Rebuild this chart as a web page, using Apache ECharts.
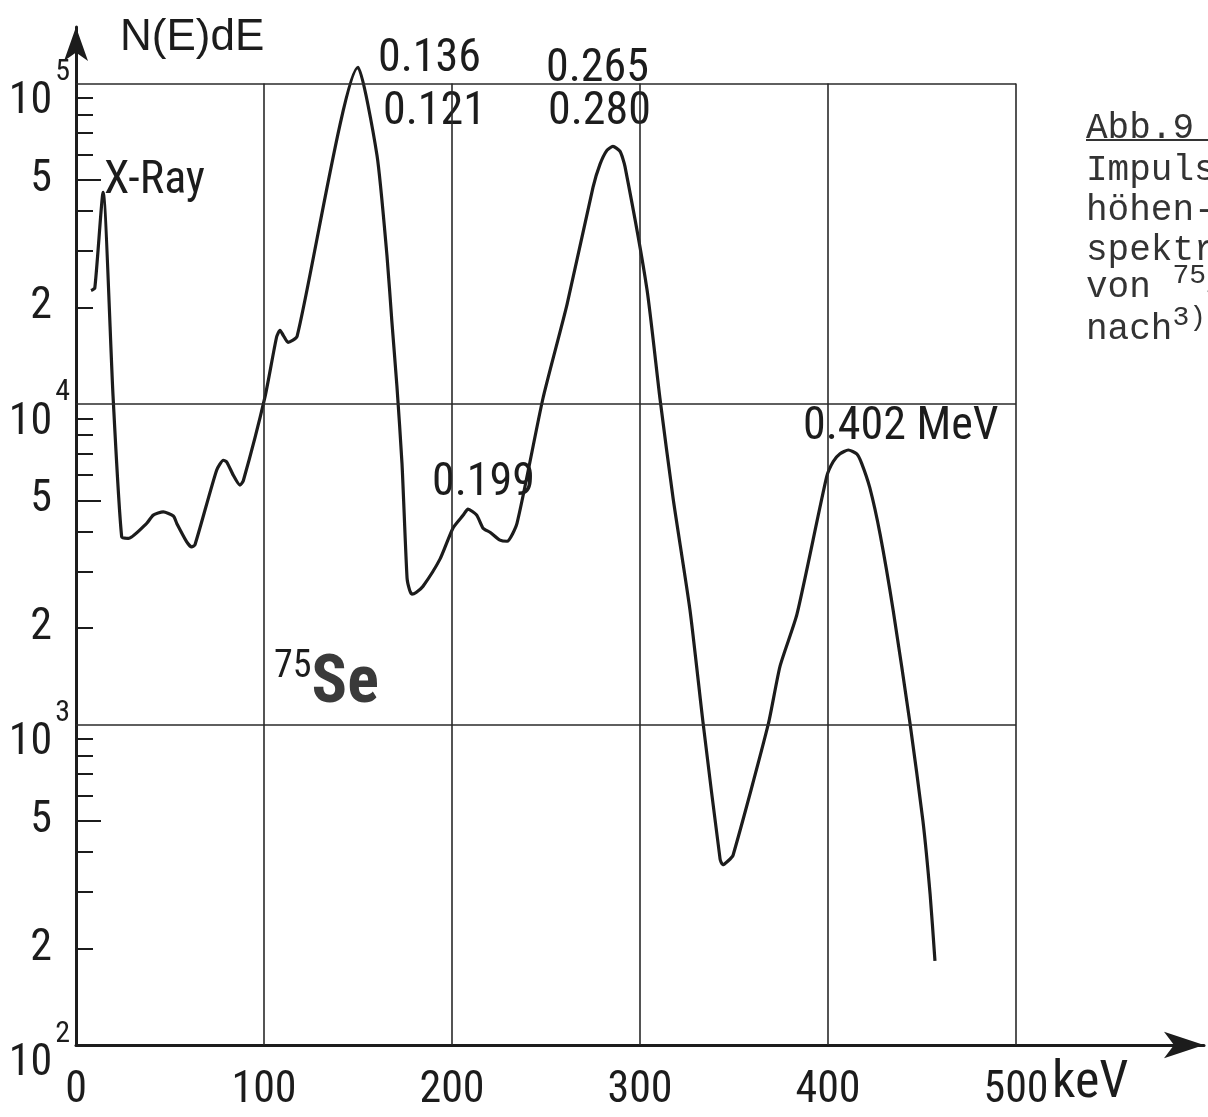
<!DOCTYPE html>
<html>
<head>
<meta charset="utf-8">
<script src="https://cdn.jsdelivr.net/npm/echarts@6/dist/echarts.min.js"></script>
<style>
  html, body { margin: 0; padding: 0; background: #fff; }
  #chart { width: 1208px; height: 1117px; }
</style>
</head>
<body>
<div id="chart"></div>
<script>
// 75Se pulse height spectrum (keV / counts)
var energy = [8, 10, 14.4, 19.7, 24.3, 27.8, 37.6, 41.1, 46.4, 51.8, 53.6, 58.9, 61.5, 63.3,
    74.8, 78.4, 80.2, 83.7, 87.2, 89, 100.5, 106.7, 108.5, 110.3, 112.8, 117.6,
    150, 160.1, 165.4, 168, 170.7, 173.4, 176.1, 177.5, 178.7, 180.9, 184.6, 193.6,
    200.5, 206, 208.5, 213.1, 216.5, 220.2, 225.5, 229.3, 234.6, 248.4, 261.2, 275,
    278.7, 282.4, 285.6, 289.4, 292, 303.7, 310.6, 317.6, 326.6, 333.5,
    342.6, 344, 346.8, 349.5, 368.2, 374.5, 383.5, 399.3, 402.8, 406.4, 410.8, 415.3,
    417.9, 422.3, 427.7, 434.7, 443.6, 450.5, 454.3, 456.9];
var counts = [22600, 23000, 45700, 10600, 3850, 3805, 4240, 4500, 4605, 4470, 4240, 3715, 3580, 3640,
    6215, 6675, 6590, 5990, 5580, 5760, 10500, 16180, 16980, 16350, 15570, 16260,
    112200, 59650, 29080, 18140, 11360, 6530, 2860, 2620, 2550, 2580, 2700, 3280,
    4097, 4500, 4695, 4500, 4097, 3980, 3760, 3730, 4250, 10420, 20460, 47400,
    55900, 61820, 63610, 61380, 55110, 22790, 10420, 5080, 2273, 1017,
    380, 365, 375, 391, 1000, 1521, 2209, 5930, 6613, 6988, 7184, 6988,
    6528, 5461, 3925, 2265, 1010, 500, 296, 183];

var xLabels = [0, 100, 200, 300, 400, 500];
var xGrid = [100, 200, 300, 400, 500];
var yLabels = [100, 200, 500, 1000, 2000, 5000, 10000, 20000, 50000, 100000];
var yGrid = [1000, 10000, 100000];
var yMinor = [200, 300, 400, 600, 700, 800, 900,
    2000, 3000, 4000, 6000, 7000, 8000, 9000,
    20000, 30000, 40000, 60000, 70000, 80000, 90000];
var yFives = [500, 5000, 50000];

var COND = '"Roboto Condensed", "Liberation Sans", sans-serif';
var MONO = '"Liberation Mono", monospace';
var INK = '#1c1c1c';

var data = [];
for (var i = 0; i < energy.length; i++) {
    data.push([energy[i], counts[i]]);
}

// grid lines stop at 500 keV and 10^5, the axes run on to the arrows
var gridLines = [];
xGrid.forEach(function (v) {
    gridLines.push([{ coord: [v, 100] }, { coord: [v, 100000] }]);
});
yGrid.forEach(function (v) {
    gridLines.push([{ coord: [0, v] }, { coord: [500, v] }]);
});

function yFormat(v) {
    var e = Math.round(Math.log10(v));
    if (Math.abs(Math.pow(10, e) - v) < v * 1e-6) {
        return '{b|10}{s|' + e + '}';
    }
    return '{d|' + Math.round(v / Math.pow(10, Math.floor(Math.log10(v) + 1e-9))) + '}';
}

var myChart = echarts.init(document.getElementById('chart'));

var option = {
    backgroundColor: '#fff',
    animation: false,
    grid: { left: 76, top: 27, width: 1128, height: 1018 },
    xAxis: {
        type: 'value',
        min: 0,
        max: 600,
        interval: 100,
        axisLine: {
            lineStyle: { color: INK, width: 3 },
            symbol: ['none', 'arrow'],
            symbolSize: [20, 40]
        },
        axisTick: { show: false },
        splitLine: { show: false },
        axisLabel: {
            customValues: xLabels,
            margin: 24,
            color: INK,
            fontSize: 44,
            fontFamily: COND
        }
    },
    yAxis: [{
        type: 'log',
        min: 100,
        max: 150000,
        axisLine: {
            lineStyle: { color: INK, width: 3 },
            symbol: ['none', 'arrow'],
            symbolSize: [18, 34]
        },
        axisTick: {
            customValues: yMinor,
            inside: true,
            length: 17,
            lineStyle: { color: INK, width: 2 }
        },
        splitLine: { show: false },
        axisLabel: {
            customValues: yLabels,
            margin: 6,
            color: INK,
            formatter: yFormat,
            rich: {
                b: { fontSize: 44, fontFamily: COND, color: INK, lineHeight: 82, verticalAlign: 'bottom' },
                s: { fontSize: 30, fontFamily: COND, color: INK, lineHeight: 30, verticalAlign: 'top', padding: [15, 0, 0, 3] },
                d: { fontSize: 44, fontFamily: COND, color: INK, padding: [0, 18, 0, 0] }
            }
        }
    }, {
        type: 'log',
        min: 100,
        max: 150000,
        position: 'left',
        axisLine: { show: false },
        axisTick: {
            customValues: yFives,
            inside: true,
            length: 25,
            lineStyle: { color: INK, width: 2 }
        },
        axisLabel: { show: false },
        splitLine: { show: false }
    }],
    series: [{
        type: 'line',
        data: data,
        showSymbol: false,
        smooth: 0.2,
        lineStyle: { color: INK, width: 3.2, join: 'round' },
        markLine: {
            silent: true,
            symbol: ['none', 'none'],
            label: { show: false },
            lineStyle: { color: '#2a2a2a', width: 1.6, type: 'solid' },
            data: gridLines
        }
    }],
    graphic: [
        { type: 'text', left: 120, top: 16, style: { text: 'N(E)dE', fontSize: 44, fontFamily: '"Liberation Sans", sans-serif', fill: INK } },
        { type: 'text', left: 104, top: 158, style: { text: 'X-Ray', fontSize: 46, fontFamily: COND, fill: INK } },
        { type: 'text', left: 378, top: 36, style: { text: '0.136', fontSize: 46, fontFamily: COND, fill: INK } },
        { type: 'text', left: 383, top: 89, style: { text: '0.121', fontSize: 46, fontFamily: COND, fill: INK } },
        { type: 'text', left: 538, top: 46, style: { text: '0.265', fontSize: 46, fontFamily: COND, fill: INK, backgroundColor: '#fff', padding: [0, 4, 0, 8] } },
        { type: 'text', left: 548, top: 89, style: { text: '0.280', fontSize: 46, fontFamily: COND, fill: INK } },
        { type: 'text', left: 432, top: 460, style: { text: '0.199', fontSize: 46, fontFamily: COND, fill: INK } },
        { type: 'text', left: 803, top: 404, style: { text: '0.402 MeV', fontSize: 46, fontFamily: COND, fill: INK } },
        { type: 'text', left: 274, top: 648, style: {
            text: '{a|75}{b|Se}',
            rich: {
                a: { fontSize: 38, fontFamily: COND, fill: INK, verticalAlign: 'top', lineHeight: 70 },
                b: { fontSize: 66, fontFamily: COND, fontWeight: 'bold', fill: '#3a3a3a', verticalAlign: 'bottom', lineHeight: 70 }
            }
        } },
        { type: 'text', left: 1052, top: 1058, style: { text: 'keV', fontSize: 52, fontFamily: COND, fill: INK } },
        { type: 'text', left: 1086, top: 110, style: { text: 'Abb.9', fontSize: 36, fontFamily: MONO, fill: '#333' } },
        { type: 'line', shape: { x1: 1086, y1: 140, x2: 1208, y2: 140 }, style: { stroke: '#333', lineWidth: 2 } },
        { type: 'text', left: 1086, top: 152, style: { text: 'Impuls-', fontSize: 36, fontFamily: MONO, fill: '#333' } },
        { type: 'text', left: 1086, top: 192, style: { text: 'höhen-', fontSize: 36, fontFamily: MONO, fill: '#333' } },
        { type: 'text', left: 1086, top: 232, style: { text: 'spektrum', fontSize: 36, fontFamily: MONO, fill: '#333' } },
        { type: 'text', left: 1086, top: 262, style: {
            text: 'von {s|75}Se',
            fontSize: 36, fontFamily: MONO, fill: '#333',
            rich: { s: { fontSize: 28, fontFamily: MONO, fill: '#333', verticalAlign: 'top', lineHeight: 50 } }
        } },
        { type: 'text', left: 1086, top: 304, style: {
            text: 'nach{s|3)}',
            fontSize: 36, fontFamily: MONO, fill: '#333',
            rich: { s: { fontSize: 28, fontFamily: MONO, fill: '#333', verticalAlign: 'top', lineHeight: 50 } }
        } }
    ]
};

myChart.setOption(option);
</script>
</body>
</html>
